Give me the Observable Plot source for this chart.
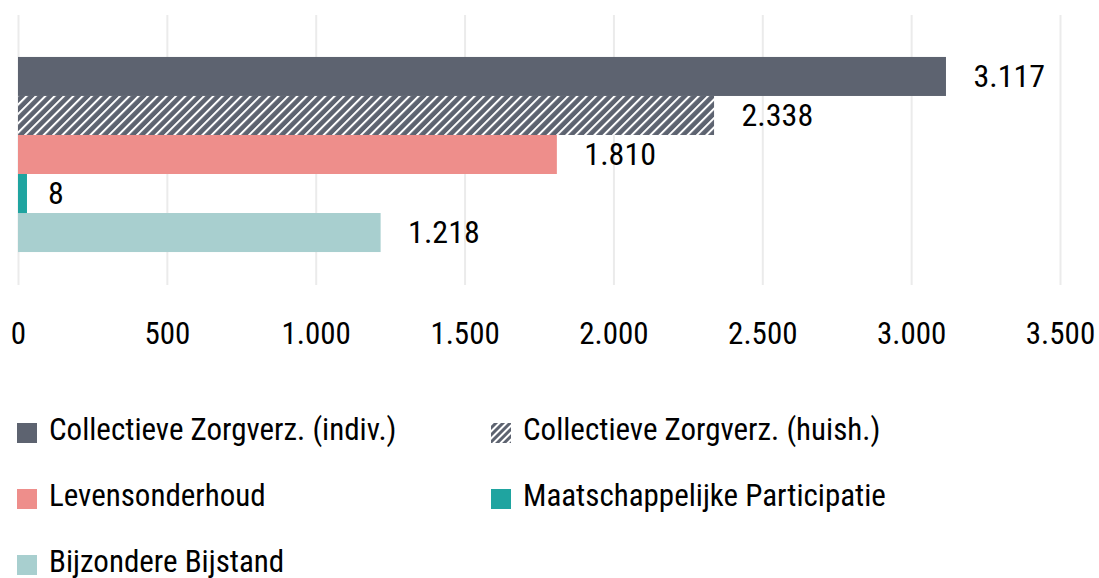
<!DOCTYPE html>
<html>
<head>
<meta charset="utf-8">
<script src="https://cdn.jsdelivr.net/npm/d3@7"></script>
<script src="https://cdn.jsdelivr.net/npm/@observablehq/plot@0.6"></script>
<style>
  html, body { margin: 0; padding: 0; background: #fff; }
  #wrap { position: relative; width: 1099px; height: 578px; overflow: hidden; font-family: "Roboto Condensed", Roboto, sans-serif; }
  #chart { position: absolute; left: 0; top: 0; }
  .item { position: absolute; display: flex; align-items: center; height: 20px; }
  .sw { width: 20px; height: 20px; flex: none; }
  .lab { font-size: 31px; line-height: 1; color: #000; margin-left: 12px; position: relative; top: -4px; white-space: nowrap; }
</style>
</head>
<body>
<div id="wrap"><div id="chart"></div><div id="legend"></div></div>
<script>
// ---- data ----
const categories = [
  "Collectieve Zorgverz. (indiv.)",
  "Collectieve Zorgverz. (huish.)",
  "Levensonderhoud",
  "Maatschappelijke Participatie",
  "Bijzondere Bijstand"
];
const values = [3117, 2338, 1810, 8, 1218];
const colors = ["#5d6370", "url(#hatch)", "#ee8e8b", "#1fa4a0", "#a8cfcf"];
const xTicks = [0, 500, 1000, 1500, 2000, 2500, 3000, 3500];

const data = categories.map((c, i) => ({category: c, value: values[i], color: colors[i]}));
const nl = d3.formatLocale({decimal: ",", thousands: ".", grouping: [3], currency: ["€", ""]});
const fmt = nl.format(",d");

const defs = () => {
  const g = d3.create("svg:defs");
  const p = g.append("pattern")
    .attr("id", "hatch")
    .attr("patternUnits", "userSpaceOnUse")
    .attr("width", 6.6).attr("height", 6.6)
    .attr("patternTransform", "rotate(45)");
  p.append("rect").attr("width", 6.6).attr("height", 6.6).attr("fill", "#5d6370");
  p.append("line").attr("x1", 1).attr("y1", 0).attr("x2", 1).attr("y2", 6.6)
    .attr("stroke", "#fff").attr("stroke-width", 2);
  return g.node();
};

const chart = Plot.plot({
  width: 1099,
  height: 380,
  marginLeft: 18,
  marginRight: 39,
  marginTop: 15,
  marginBottom: 95,
  style: {fontFamily: "'Roboto Condensed', Roboto, sans-serif", fontSize: "31px", color: "#000", background: "#fff"},
  x: {domain: [0, 3500], axis: null},
  y: {domain: categories, axis: null, paddingInner: 0, paddingOuter: 0.96, align: 0.56, round: false},
  marks: [
    defs,
    Plot.gridX(xTicks, {stroke: "#ebebeb", strokeOpacity: 1, strokeWidth: 2}),
    Plot.axisX(xTicks, {tickSize: 0, tickPadding: 36, tickFormat: fmt, fontSize: 31, label: null}),
    Plot.barX(data.filter(d => d.value >= 50), {x: "value", y: "category", fill: "color"}),
    Plot.barX(data.filter(d => d.value < 50), {x: "value", y: "category", fill: "color", insetRight: -6.6}),
    Plot.text(data, {x: "value", y: "category", text: d => fmt(d.value), textAnchor: "start", dx: 27, fontSize: 32, fill: "#000"})
  ]
});
document.getElementById("chart").appendChild(chart);

// ---- legend ----
const legend = document.getElementById("legend");
data.forEach((d, i) => {
  const col = i % 2, row = Math.floor(i / 2);
  const item = document.createElement("div");
  item.className = "item";
  item.style.left = (17 + col * 474) + "px";
  item.style.top = (423 + row * 66) + "px";
  let sw;
  if (d.color.startsWith("url")) {
    sw = document.createElementNS("http://www.w3.org/2000/svg", "svg");
    sw.setAttribute("width", 20); sw.setAttribute("height", 20);
    sw.setAttribute("class", "sw");
    sw.innerHTML = `<defs><pattern id="hatchL" patternUnits="userSpaceOnUse" width="5" height="5" patternTransform="rotate(45)"><rect width="5" height="5" fill="#5d6370"/><line x1="1" y1="0" x2="1" y2="5" stroke="#fff" stroke-width="2"/></pattern></defs><rect width="20" height="20" fill="url(#hatchL)"/>`;
  } else {
    sw = document.createElement("div");
    sw.className = "sw";
    sw.style.background = d.color;
  }
  const lab = document.createElement("span");
  lab.className = "lab";
  lab.textContent = d.category;
  item.appendChild(sw);
  item.appendChild(lab);
  legend.appendChild(item);
});
</script>
</body>
</html>
